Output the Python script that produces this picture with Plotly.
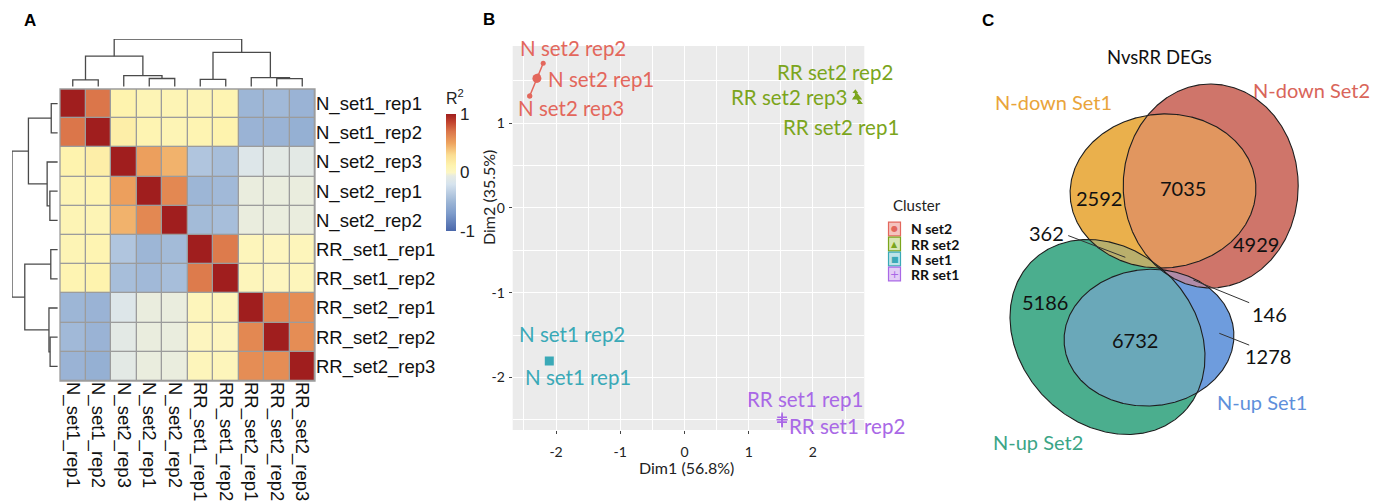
import numpy as np
import plotly.graph_objects as go

W, H = 1386, 503

# ---------------- DATA ----------------
# Panel A: sample correlation heatmap (rows/cols in clustered order)
samples = ["N_set1_rep1", "N_set1_rep2", "N_set2_rep3", "N_set2_rep1", "N_set2_rep2",
           "RR_set1_rep1", "RR_set1_rep2", "RR_set2_rep1", "RR_set2_rep2", "RR_set2_rep3"]
r2 = [
    [1.00, 0.70, 0.12, 0.08, 0.08, 0.08, 0.10, -0.50, -0.48, -0.52],
    [0.70, 1.00, 0.16, 0.10, 0.08, 0.10, 0.12, -0.52, -0.52, -0.55],
    [0.12, 0.16, 1.00, 0.52, 0.45, -0.40, -0.45, -0.14, -0.09, -0.09],
    [0.08, 0.10, 0.52, 1.00, 0.62, -0.50, -0.48, -0.05, -0.05, -0.05],
    [0.08, 0.08, 0.45, 0.62, 1.00, -0.47, -0.45, -0.05, -0.05, -0.05],
    [0.08, 0.10, -0.40, -0.50, -0.47, 1.00, 0.68, 0.05, 0.03, 0.05],
    [0.10, 0.12, -0.45, -0.48, -0.45, 0.68, 1.00, 0.05, 0.03, 0.05],
    [-0.50, -0.52, -0.14, -0.05, -0.05, 0.05, 0.05, 1.00, 0.62, 0.60],
    [-0.48, -0.52, -0.09, -0.05, -0.05, 0.03, 0.03, 0.62, 1.00, 0.60],
    [-0.52, -0.55, -0.09, -0.05, -0.05, 0.05, 0.05, 0.60, 0.60, 1.00],
]
# hierarchical clustering (leaf indices 0-9, merged nodes numbered from 10)
merge_left = [0, 3, 2, 10, 5, 8, 7, 14, 13]
merge_right = [1, 4, 11, 12, 6, 9, 15, 16, 17]
merge_height = [0.14, 0.17, 0.23, 0.64, 0.15, 0.165, 0.19, 0.72, 1.00]

# Panel B: PCA
pca_labels = ["N set2 rep2", "N set2 rep1", "N set2 rep3", "RR set2 rep2", "RR set2 rep3",
              "RR set2 rep1", "N set1 rep2", "N set1 rep1", "RR set1 rep1", "RR set1 rep2"]
pca_cluster = ["N set2", "N set2", "N set2", "RR set2", "RR set2", "RR set2",
               "N set1", "N set1", "RR set1", "RR set1"]
dim1 = [-2.20, -2.285, -2.41, 2.66, 2.67, 2.73, -2.11, -2.10, 1.52, 1.52]
dim2 = [1.706, 1.556, 1.32, 1.37, 1.31, 1.24, -1.80, -1.81, -2.47, -2.53]
clusters = ["N set2", "RR set2", "N set1", "RR set1"]

# Panel C: Venn diagram
venn_sets = ["N-down Set1", "N-down Set2", "N-up Set2", "N-up Set1"]
venn_counts = [2592, 7035, 4929, 362, 5186, 6732, 146, 1278]

# ---------------- STYLE / LAYOUT ----------------
def px_x(p):
    return p / W

def px_y(p):
    return 1 - p / H

heat_colorscale = [
    [0.00, "#4A67AA"], [0.15, "#7E9CCB"], [0.25, "#9DB6D6"], [0.40, "#D6E3EE"],
    [0.47, "#E6EBE3"], [0.50, "#FCF6C4"], [0.56, "#FEF3AE"], [0.65, "#FBDD92"],
    [0.75, "#EEA45F"], [0.85, "#DB764A"], [0.93, "#C2432E"], [1.00, "#A01E1E"],
]
clu_color = {"N set2": "#E3675C", "RR set2": "#7BA51C", "N set1": "#3AA9B7", "RR set1": "#A968E6"}
clu_fill = {"N set2": "rgba(227,103,92,0.25)", "RR set2": "rgba(123,165,28,0.25)",
            "N set1": "rgba(58,169,183,0.25)", "RR set1": "rgba(169,104,230,0.25)"}
clu_key_fill = {"N set2": "#F4C4BF", "RR set2": "#D8E6B4", "N set1": "#BEE3E8", "RR set1": "#E3CDF6"}
clu_symbol = {"N set2": "circle", "RR set2": "triangle-up", "N set1": "square", "RR set1": "cross-thin"}
clu_glyph = {"N set2": "●", "RR set2": "▲", "N set1": "■", "RR set1": "+"}
# label placement for the PCA (repelled text positions)
label_xy = [(-1.73, 1.89), (-1.30, 1.52), (-1.77, 1.18), (2.35, 1.60), (1.62, 1.31),
            (2.43, 0.96), (-1.75, -1.49), (-1.66, -1.99), (1.88, -2.26), (2.53, -2.57)]

# venn geometry (pixel-like units)
ell_cx = [1163, 1210.7, 1107.5, 1149]
ell_cy = [191, 186, 337, 337.7]
ell_a = [93, 87.5, 107, 85]
ell_b = [77, 102, 87, 68.3]
ell_ang = [-4, 0, 45, -4]
venn_single = ["#EAB04C", "#CF756A", "#4BAE8E", "#6E9CDD"]
venn_label_col = ["#E9A43A", "#D9655A", "#3BA586", "#5E8FDB"]
venn_pairs = [(0, 1, "#E1965F"), (0, 2, "#B9AF6C"), (1, 3, "#B08BA8"), (2, 3, "#6AA8B9")]

LAT = "Lato, 'Open Sans', sans-serif"
ARI = "'Liberation Sans', Arial, sans-serif"

fig = go.Figure()

# ---------- Panel A ----------
n = len(samples)
fig.add_trace(go.Heatmap(
    z=r2, x=list(range(n)), y=list(range(n)), zmin=-1, zmax=1,
    colorscale=heat_colorscale, xgap=1.3, ygap=1.3, xaxis="x", yaxis="y",
    hoverinfo="skip",
    colorbar=dict(x=px_x(446), xanchor="left", y=px_y(89), yanchor="top",
                  len=(231 - 89) / H, lenmode="fraction", thickness=10, thicknessmode="pixels",
                  xpad=0, ypad=0, outlinewidth=0, tickvals=[-1, 0, 1], ticktext=["-1", "0", "1"],
                  ticks="", tickfont=dict(size=17, family=ARI, color="#222"),
                  title=dict(text="R<sup>2</sup>", side="top", font=dict(size=16, family=ARI, color="#222"))),
))


def dendro_segments():
    pos = {i: float(i) for i in range(n)}
    hgt = {i: 0.0 for i in range(n)}
    xs, ys = [], []
    for k, (a, b, h) in enumerate(zip(merge_left, merge_right, merge_height)):
        node = n + k
        xs += [pos[a], pos[a], pos[b], pos[b], None]
        ys += [hgt[a], h, h, hgt[b], None]
        pos[node] = (pos[a] + pos[b]) / 2
        hgt[node] = h
    return xs, ys


dx, dy = dendro_segments()
fig.add_trace(go.Scatter(x=dx, y=dy, mode="lines", line=dict(color="#4a4a4a", width=1.3),
                         xaxis="x3", yaxis="y3", hoverinfo="skip", showlegend=False))
fig.add_trace(go.Scatter(x=dy, y=dx, mode="lines", line=dict(color="#4a4a4a", width=1.3),
                         xaxis="x4", yaxis="y4", hoverinfo="skip", showlegend=False))

# ---------- Panel B ----------
dim1a = np.array(dim1)
dim2a = np.array(dim2)
clu_a = np.array(pca_cluster)
for c in clusters:
    m = clu_a == c
    px_, py_ = dim1a[m], dim2a[m]
    cx, cy = px_.mean(), py_.mean()
    order = np.argsort(np.arctan2(py_ - cy, px_ - cx))
    hx = list(px_[order]) + [px_[order][0]]
    hy = list(py_[order]) + [py_[order][0]]
    mk = dict(symbol=clu_symbol[c], size=5, color=clu_color[c])
    if c == "RR set1":
        mk = dict(symbol="cross-thin", size=7, color=clu_color[c], line=dict(color=clu_color[c], width=1.5))
    fig.add_trace(go.Scatter(x=hx, y=hy, mode="lines+markers", fill="toself", fillcolor=clu_fill[c],
                             line=dict(color=clu_color[c], width=1.5), marker=mk,
                             name=c, xaxis="x2", yaxis="y2", hoverinfo="skip", showlegend=False))
    mk2 = dict(mk)
    mk2["size"] = mk["size"] + 4 if c != "RR set1" else 8
    fig.add_trace(go.Scatter(x=[cx], y=[cy], mode="markers", marker=mk2, xaxis="x2", yaxis="y2",
                             showlegend=False, hoverinfo="skip"))

annotations = []
shapes = []


def ann(**kw):
    kw.setdefault("xanchor", "center")
    kw.setdefault("yanchor", "middle")
    kw.setdefault("showarrow", False)
    annotations.append(kw)


for lab, c, (lx, ly) in zip(pca_labels, pca_cluster, label_xy):
    ann(x=lx, y=ly, xref="x2", yref="y2", text=lab, font=dict(family=LAT, size=20.5, color=clu_color[c]))
ann(x=px_x(489), y=px_y(198), xref="paper", yref="paper", text="Dim2 (35.5%)",
    textangle=-90, font=dict(family=LAT, size=16, color="#222"))
ann(x=px_x(686), y=px_y(467), xref="paper", yref="paper", text="Dim1 (56.8%)",
    font=dict(family=LAT, size=16, color="#222"))

# legend (drawn manually, ggplot style keys)
ann(x=px_x(891), y=px_y(205), xref="paper", yref="paper", text="Cluster",
    xanchor="left", font=dict(family=LAT, size=15, color="#222"))
for k, c in enumerate(clusters):
    yc = 229 + 15 * k
    shapes.append(dict(type="rect", xref="paper", yref="paper", x0=px_x(888.5), x1=px_x(900.5),
                       y0=px_y(yc + 6.8), y1=px_y(yc - 6.8), fillcolor=clu_key_fill[c],
                       line=dict(color=clu_color[c], width=1.2)))
    ann(x=px_x(894.5), y=px_y(yc), xref="paper", yref="paper", text=clu_glyph[c],
        font=dict(family="DejaVu Sans", size=8 if c != "RR set1" else 11, color=clu_color[c]))
    ann(x=px_x(909), y=px_y(yc), xref="paper", yref="paper", text="<b>%s</b>" % c,
        xanchor="left", font=dict(family=LAT, size=14, color="#111"))

# ---------- Panel C ----------
def ellipse_pts(i, npts=720):
    t = np.linspace(0, 2 * np.pi, npts)
    th = np.deg2rad(ell_ang[i])
    x = ell_cx[i] + ell_a[i] * np.cos(t) * np.cos(th) - ell_b[i] * np.sin(t) * np.sin(th)
    y = ell_cy[i] + ell_a[i] * np.cos(t) * np.sin(th) + ell_b[i] * np.sin(t) * np.cos(th)
    return x, y


def inside(i, x, y):
    th = np.deg2rad(ell_ang[i])
    ddx, ddy = x - ell_cx[i], y - ell_cy[i]
    u = ddx * np.cos(th) + ddy * np.sin(th)
    v = -ddx * np.sin(th) + ddy * np.cos(th)
    return (u / ell_a[i]) ** 2 + (v / ell_b[i]) ** 2 <= 1.0


def intersection(i, j):
    xi, yi = ellipse_pts(i, 2000)
    xj, yj = ellipse_pts(j, 2000)
    mi = inside(j, xi, yi)
    mj = inside(i, xj, yj)
    X = np.concatenate([xi[mi], xj[mj]])
    Y = np.concatenate([yi[mi], yj[mj]])
    if len(X) < 3:
        return None, None
    cx, cy = X.mean(), Y.mean()
    o = np.argsort(np.arctan2(Y - cy, X - cx))
    return list(X[o]) + [X[o][0]], list(Y[o]) + [Y[o][0]]


for i in [2, 3, 0, 1]:
    ex, ey = ellipse_pts(i)
    fig.add_trace(go.Scatter(x=ex, y=ey, mode="lines", fill="toself", fillcolor=venn_single[i],
                             line=dict(width=0), xaxis="x5", yaxis="y5", hoverinfo="skip", showlegend=False))
for i, j, col in venn_pairs:
    ix, iy = intersection(i, j)
    if ix is not None:
        fig.add_trace(go.Scatter(x=ix, y=iy, mode="lines", fill="toself", fillcolor=col,
                                 line=dict(width=0, color=col), xaxis="x5", yaxis="y5",
                                 hoverinfo="skip", showlegend=False))
for i in range(4):
    ex, ey = ellipse_pts(i)
    fig.add_trace(go.Scatter(x=ex, y=ey, mode="lines", line=dict(width=1.1, color="#1e1e1e"),
                             xaxis="x5", yaxis="y5", hoverinfo="skip", showlegend=False))

venn_label_xy = [(1053, 101.7), (1311.7, 90), (1038, 441.7), (1261.7, 402.3)]
for s, col, (lx, ly) in zip(venn_sets, venn_label_col, venn_label_xy):
    ann(x=lx, y=ly, xref="x5", yref="y5", text=s, font=dict(family=LAT, size=20, color=col))
ann(x=1159, y=56.7, xref="x5", yref="y5", text="NvsRR DEGs", font=dict(family=LAT, size=18.5, color="#111"))
count_xy = [(1099.3, 197.7), (1182.7, 187.7), (1256, 244.3), (1046.7, 233.3), (1045, 301.7),
            (1135, 340), (1269, 314), (1267.7, 355.7)]
for cnt, (lx, ly) in zip(venn_counts, count_xy):
    ann(x=lx, y=ly, xref="x5", yref="y5", text=str(cnt), font=dict(family=LAT, size=20, color="#111"))
# leader lines for small regions
leaders = [((1125.3, 257.3), (1066.7, 235)), ((1193.3, 280), (1250.7, 303.3)), ((1219.3, 333.3), (1250.7, 345.7))]
for (x0, y0), (x1, y1) in leaders:
    annotations.append(dict(x=x0, y=y0, ax=x1, ay=y1, xref="x5", yref="y5", axref="x5", ayref="y5",
                            text="", showarrow=True, arrowhead=0, arrowwidth=1, arrowcolor="#333"))

# panel letters
for t, (lx, ly) in zip(["A", "B", "C"], [(30, 21), (489, 19), (988, 21)]):
    ann(x=px_x(lx), y=px_y(ly), xref="paper", yref="paper", text="<b>%s</b>" % t,
        font=dict(family=ARI, size=17, color="#000"))

shapes += [
    dict(type="rect", xref="x domain", yref="y domain", x0=0, x1=1, y0=0, y1=1,
         fillcolor="#9C9C9C", line=dict(width=0), layer="below"),
    dict(type="rect", xref="x domain", yref="y domain", x0=0, x1=1, y0=0, y1=1,
         line=dict(width=1.3, color="#9C9C9C"), layer="above"),
    dict(type="rect", xref="x2 domain", yref="y2 domain", x0=0, x1=1, y0=0, y1=1,
         fillcolor="#EBEBEB", line=dict(width=0), layer="below"),
]

hide = dict(visible=False, showgrid=False, zeroline=False, automargin=False)
fig.update_layout(
    width=W, height=H, margin=dict(l=0, r=0, t=0, b=0, autoexpand=False),
    paper_bgcolor="white", plot_bgcolor="white",
    showlegend=False,
    xaxis=dict(domain=[px_x(60), px_x(315)], range=[-0.5, n - 0.5], tickvals=list(range(n)), ticktext=samples,
               tickangle=90, showgrid=False, zeroline=False, ticks="", automargin=False,
               tickfont=dict(size=18.5, family=ARI, color="#111")),
    yaxis=dict(domain=[px_y(381), px_y(89)], range=[n - 0.5, -0.5], tickvals=list(range(n)), ticktext=samples,
               side="right", showgrid=False, zeroline=False, ticks="", automargin=False,
               tickfont=dict(size=18.5, family=ARI, color="#111")),
    xaxis3=dict(domain=[px_x(60), px_x(315)], range=[-0.5, n - 0.5], anchor="y3", **hide),
    yaxis3=dict(domain=[px_y(88), px_y(39)], range=[-0.03, 1.0], anchor="x3", **hide),
    xaxis4=dict(domain=[px_x(12), px_x(59)], range=[1.0, -0.03], anchor="y4", **hide),
    yaxis4=dict(domain=[px_y(381), px_y(89)], range=[n - 0.5, -0.5], anchor="x4", **hide),
    xaxis2=dict(domain=[px_x(512.7), px_x(864.3)], range=[-2.675, 2.80], anchor="y2",
                tickvals=[-2, -1, 0, 1, 2], ticktext=["-2", "-1", "0", "1", "2"],
                showgrid=True, gridcolor="white", gridwidth=1.3, zeroline=False, automargin=False,
                minor=dict(tickvals=[-2.5, -1.5, -0.5, 0.5, 1.5, 2.5], showgrid=True, gridcolor="white",
                           gridwidth=0.6, ticks=""),
                ticks="outside", ticklen=3, tickcolor="#444", ticklabelstandoff=6,
                tickfont=dict(size=14, family=LAT, color="#222")),
    yaxis2=dict(domain=[px_y(430), px_y(46)], range=[-2.62, 1.91], anchor="x2",
                tickvals=[-2, -1, 0, 1], ticktext=["-2", "-1", "0", "1"],
                showgrid=True, gridcolor="white", gridwidth=1.3, zeroline=False, automargin=False,
                minor=dict(tickvals=[-2.5, -1.5, -0.5, 0.5, 1.5], showgrid=True, gridcolor="white",
                           gridwidth=0.6, ticks=""),
                ticks="outside", ticklen=3, tickcolor="#444", ticklabelstandoff=1,
                tickfont=dict(size=14, family=LAT, color="#222")),
    xaxis5=dict(domain=[px_x(975), 1], range=[975, W], anchor="y5", **hide),
    yaxis5=dict(domain=[0, 1], range=[H, 0], anchor="x5", **hide),
    annotations=annotations,
    shapes=shapes,
)

fig.write_html("out.html", config={"displayModeBar": False},
               post_script="document.body.style.margin='0';document.body.style.overflow='hidden';")
